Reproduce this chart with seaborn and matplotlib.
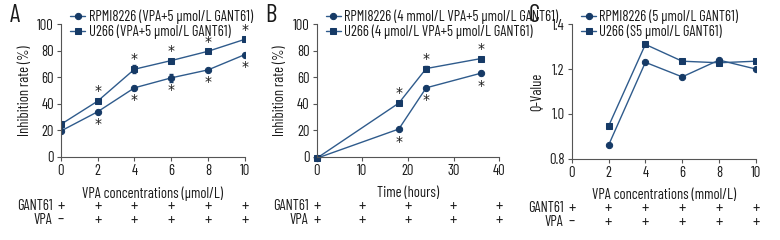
import matplotlib
matplotlib.use("Agg")
import matplotlib.pyplot as plt
import seaborn as sns
import pandas as pd
import numpy as np

sns.set_style("ticks")
plt.rcParams['font.family'] = ['Barlow Condensed', 'DejaVu Sans']

# Panel A
a_x = [0, 2, 4, 6, 8, 10]
a_rpmi = [19.5, 34, 52, 59.5, 65.5, 77]
a_u266 = [24.5, 42, 66, 72.5, 79.5, 88.5]
a_rpmi_err = [1, 1, 1.5, 3, 1, 1]
a_u266_err = [1, 1.5, 3, 1.5, 1, 1]
a_star = [False, True, True, True, True, True]

# Panel B
b_x = [0, 18, 24, 36]
b_rpmi = [-1, 21, 52, 63]
b_u266 = [-1, 40.5, 66.5, 74]
b_rpmi_err = [0.5, 1, 1, 1.5]
b_u266_err = [0.5, 1, 2, 1.5]
b_star = [False, True, True, True]

# Panel C
c_x = [2, 4, 6, 8, 10]
c_rpmi = [0.86, 1.23, 1.165, 1.24, 1.2]
c_u266 = [0.945, 1.31, 1.235, 1.228, 1.235]

leg_a = ["RPMI8226 (VPA+5 \u03bcmol/L GANT61)", "U266 (VPA+5 \u03bcmol/L GANT61)"]
leg_b = ["RPMI8226 (4 mmol/L VPA+5 \u03bcmol/L GANT61)", "U266 (4 \u03bcmol/L VPA+5 \u03bcmol/L GANT61)"]
leg_c = ["RPMI8226 (5 \u03bcmol/L GANT61)", "U266 (S5 \u03bcmol/L GANT61)"]

a_ticks = [0, 2, 4, 6, 8, 10]
b_ticks = [0, 10, 20, 30, 40]
c_ticks = [0, 2, 4, 6, 8, 10]
a_vpa = ["\u2013", "+", "+", "+", "+", "+"]
b_vpa = ["+", "+", "+", "+", "+"]
c_vpa = ["\u2013", "+", "+", "+", "+", "+"]

LINE = "#2f5b8c"
MARK = "#163a66"
TXT = "#1a1a1a"
FS = 10.5

fig = plt.figure(figsize=(7.8, 2.4), dpi=100)
axA = fig.add_axes([0.078, 0.346, 0.236, 0.554])
axB = fig.add_axes([0.406, 0.346, 0.234, 0.554])
axC = fig.add_axes([0.733, 0.339, 0.236, 0.560])


def draw(ax, x, y1, y2, labels, e1=None, e2=None):
    df = pd.DataFrame({"x": list(x) + list(x), "y": list(y1) + list(y2),
                       "s": [labels[0]] * len(x) + [labels[1]] * len(x)})
    sns.lineplot(data=df, x="x", y="y", hue="s", style="s",
                 markers={labels[0]: "o", labels[1]: "s"}, dashes=False,
                 palette={labels[0]: LINE, labels[1]: LINE},
                 markersize=4.5, markeredgecolor=MARK, markerfacecolor=MARK,
                 linewidth=1, ax=ax, legend=True)
    for ln in ax.lines:
        ln.set_markerfacecolor(MARK)
        ln.set_markeredgecolor(MARK)
    if e1 is not None:
        ax.errorbar(x, y1, yerr=e1, fmt="none", ecolor=MARK, elinewidth=0.8, capsize=1.5)
        ax.errorbar(x, y2, yerr=e2, fmt="none", ecolor=MARK, elinewidth=0.8, capsize=1.5)
    leg = ax.legend(loc="upper left", bbox_to_anchor=(0.02, 1.15), frameon=False,
                    fontsize=FS, handlelength=1.0, handletextpad=0.25,
                    labelspacing=0.0, borderaxespad=0)
    for h in leg.legend_handles:
        h.set_color(LINE)
        h.set_markerfacecolor(MARK)
        h.set_markeredgecolor(MARK)
    for t in leg.get_texts():
        t.set_color(TXT)
    ax.set_xlabel("")
    ax.set_ylabel("")
    sns.despine(ax=ax)
    for s in ["left", "bottom"]:
        ax.spines[s].set_color("#555555")
        ax.spines[s].set_linewidth(0.8)
    ax.tick_params(labelsize=FS, colors="#555555", labelcolor=TXT, length=3, width=0.8, pad=2)


def stars(ax, x, y1, y2, flags, off_up=7, off_dn=-9):
    for xi, a, b, f in zip(x, y1, y2, flags):
        if not f:
            continue
        ax.annotate("*", (xi, b), xytext=(0, off_up), textcoords="offset points",
                    ha="center", va="center", fontsize=10, color=TXT, family="DejaVu Sans")
        ax.annotate("*", (xi, a), xytext=(0, off_dn), textcoords="offset points",
                    ha="center", va="center", fontsize=10, color=TXT, family="DejaVu Sans")


draw(axA, a_x, a_rpmi, a_u266, leg_a, a_rpmi_err, a_u266_err)
axA.set_xlim(0, 10)
axA.set_ylim(0, 100)
axA.set_xticks(a_ticks)
axA.set_yticks([0, 20, 40, 60, 80, 100])
axA.set_xlabel("VPA concentrations (\u03bcmol/L)", fontsize=FS, color=TXT, labelpad=6)
axA.set_ylabel("Inhibition rate (%)", fontsize=FS, color=TXT, labelpad=4)
stars(axA, a_x, a_rpmi, a_u266, a_star)

draw(axB, b_x, b_rpmi, b_u266, leg_b, b_rpmi_err, b_u266_err)
axB.set_xlim(0, 40)
axB.set_ylim(0, 100)
axB.set_xticks(b_ticks)
axB.set_yticks([0, 20, 40, 60, 80, 100])
axB.set_xlabel("Time (hours)", fontsize=FS, color=TXT, labelpad=6)
axB.set_ylabel("Inhibition rate (%)", fontsize=FS, color=TXT, labelpad=4)
stars(axB, b_x, b_rpmi, b_u266, b_star)
for ln in axB.lines:
    ln.set_clip_on(False)

draw(axC, c_x, c_rpmi, c_u266, leg_c)
axC.set_xlim(0, 10)
axC.set_ylim(0.8, 1.4)
axC.set_xticks(c_ticks)
axC.set_yticks([0.8, 1.0, 1.2, 1.4])
axC.yaxis.set_major_formatter(matplotlib.ticker.FormatStrFormatter("%.1f"))
axC.set_xlabel("VPA concentrations (mmol/L)", fontsize=FS, color=TXT, labelpad=6)
axC.set_ylabel("Q-Value", fontsize=FS, color=TXT, labelpad=4)

# GANT61 / VPA rows
for ax, ticks, vpa in [(axA, a_ticks, a_vpa), (axB, b_ticks, b_vpa), (axC, c_ticks, c_vpa)]:
    tr = ax.get_xaxis_transform()
    ax.text(-0.045, -0.37, "GANT61", transform=ax.transAxes, ha="right", va="center",
            fontsize=FS, color=TXT)
    ax.text(-0.045, -0.475, "VPA", transform=ax.transAxes, ha="right", va="center",
            fontsize=FS, color=TXT)
    for t, v in zip(ticks, vpa):
        ax.text(t, -0.37, "+", transform=tr, ha="center", va="center", fontsize=FS + 1.5,
                color=TXT, clip_on=False)
        ax.text(t, -0.475, v, transform=tr, ha="center", va="center", fontsize=FS + 1.5,
                color=TXT, clip_on=False)

for lbl, xpos in [("A", 0.012), ("B", 0.340), ("C", 0.678)]:
    fig.text(xpos, 0.935, lbl, fontsize=18, color=TXT, ha="left", va="center")

fig.savefig("out.png", dpi=100)
